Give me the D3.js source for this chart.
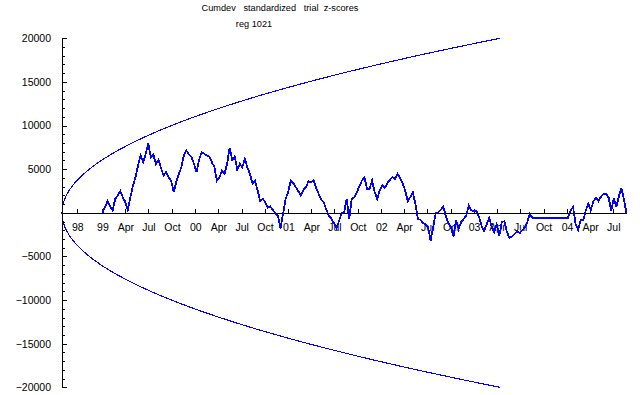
<!DOCTYPE html>
<html>
<head>
<meta charset="utf-8">
<script src="https://cdn.jsdelivr.net/npm/d3@7"></script>
<style>
  html, body { margin: 0; padding: 0; background: #fff; }
  svg { display: block; font-family: "Liberation Sans", Arial, sans-serif; }
</style>
</head>
<body>
<svg id="chart" width="640" height="395"></svg>
<script>
// Cumulative deviation of standardized trial z-scores, egg 1021
// one value every 10 days starting 1999-01-01
const seriesStart = "1999-01-01";
const stepDays = 10;
const cumdev = [
  0, 650, 1330, 720, 260, 1600, 1980, 2480, 1790, 1220,
  340, 1790, 3130, 4080, 5420, 6570, 5800, 6760, 7980, 6380,
  6680, 5610, 6070, 5150, 4280, 4660, 4080, 3700, 2370, 3510,
  4390, 5230, 6570, 7140, 6680, 6380, 5610, 4660, 6070, 6950,
  6760, 6570, 6450, 5800, 5230, 3700, 4080, 4850, 4470, 5610,
  7450, 6070, 6450, 4930, 5610, 5230, 6190, 5150, 4470, 3320,
  3630, 2560, 1330, 1600, 1220, 570, 720, 340, -120, -310,
  -1800, -100, 1600, 2370, 3700, 3400, 2940, 2480, 1980, 2630,
  2940, 3630, 3510, 3700, 2860, 2170, 1490, 1220, 340, -310,
  -690, -1190, -1720, -960, -40, 70, 1600, -690, 1600, 1790,
  2370, 3010, 3700, 4080, 2750, 2750, 3700, 2370, 1600, 2560,
  3130, 2860, 3400, 3780, 4080, 3890, 4470, 4010, 3400, 2560,
  1330, 1790, 2370, 1030, -690, -810, -1190, -1340, -1650, -3170,
  -1650, -40, 70, 340, 720, -420, -1190, -1650, -2720, -810,
  -1840, -1070, -690, -310, 840, 260, 190, 190, -420, -1460,
  -2110, -1340, -580, -1570, -2220, -1340, -2600, -1070, -960, -2220,
  -2870, -2720, -2410, -2110, -2330, -2030, -1650, -1070, -120, -580,
  -580, -580, -580, -580, -580, -580, -580, -580, -580, -580,
  -580, -580, -580, -580, 260, 650, -1260, -1950, -810, -880,
  260, 1030, 340, 1330, 1720, 1330, 1870, 2170, 2170, 1720,
  260, 1720, 650, 1870, 2860, 1490, -40
];

// probability envelope
const envelopeStart = "1998-07-26";
const envelopeEnd = "2003-04-13";
const envelopeMax = 20000;

const xTickDates = [
  "1998-09-24", "1999-01-01", "1999-04-01", "1999-07-01", "1999-10-01",
  "2000-01-01", "2000-04-01", "2000-07-01", "2000-10-01",
  "2001-01-01", "2001-04-01", "2001-07-01", "2001-10-01",
  "2002-01-01", "2002-04-01", "2002-07-01", "2002-10-01",
  "2003-01-01", "2003-04-01", "2003-07-01", "2003-10-01",
  "2004-01-01", "2004-04-01", "2004-07-01"
];
const xTickLabels = [
  "98", "99", "Apr", "Jul", "Oct",
  "00", "Apr", "Jul", "Oct",
  "01", "Apr", "Jul", "Oct",
  "02", "Apr", "Jul", "Oct",
  "03", "Apr", "Jul", "Oct",
  "04", "Apr", "Jul"
];
const yMajorTicks = [-20000, -15000, -10000, -5000, 5000, 10000, 15000, 20000];

const title = "Cumdev   standardized   trial  z-scores";
const subtitle = "reg 1021";

const parse = d3.utcParse("%Y-%m-%d");
const day = 86400000;
const t0 = parse(seriesStart);
const points = cumdev.map((v, i) => ({ date: new Date(t0.getTime() + i * stepDays * day), value: v }));

const svg = d3.select("#chart");

const x = d3.scaleUtc()
  .domain([parse(envelopeStart), points[points.length - 1].date])
  .range([62, 626.5]);

const y = d3.scaleLinear()
  .domain([-20000, 20000])
  .range([387.3, 38.3]);

// titles (keep the double spaces)
svg.append("text")
  .attr("x", 280).attr("y", 11)
  .attr("text-anchor", "middle")
  .attr("font-size", "9.2px")
  .text(title.replace(/ /g, "\u00a0"));

svg.append("text")
  .attr("x", 254).attr("y", 26.5)
  .attr("text-anchor", "middle")
  .attr("font-size", "9.2px")
  .text(subtitle);

// envelope
const eStart = parse(envelopeStart).getTime();
const eEnd = parse(envelopeEnd).getTime();
const eDates = d3.range(eStart, eEnd + 1, day * 2).map(t => new Date(t));
const envLine = d3.line()
  .x(d => x(d.date))
  .y(d => y(d.value));

[1, -1].forEach(sign => {
  const env = eDates.map(dt => ({
    date: dt,
    value: sign * envelopeMax * Math.sqrt((dt.getTime() - eStart) / (eEnd - eStart))
  }));
  svg.append("path")
    .datum(env)
    .attr("fill", "none")
    .attr("stroke", "#0000ff")
    .attr("stroke-width", 1.1)
    .attr("shape-rendering", "crispEdges")
    .attr("d", envLine);
});

// y axis, minor ticks then major
const fmt = d => d < 0 ? "\u2212" + (-d) : String(d);
const yAxisG = svg.append("g").attr("transform", "translate(62,0)");
yAxisG.append("g")
  .call(d3.axisLeft(y).tickValues(d3.range(-20000, 20001, 1000)).tickSizeInner(-2.5).tickSizeOuter(0).tickFormat(""))
  .call(g => g.selectAll("text").remove());
yAxisG.append("g")
  .call(d3.axisLeft(y).tickValues(yMajorTicks).tickSizeInner(-4.5).tickSizeOuter(0).tickPadding(11).tickFormat(fmt))
  .call(g => g.select(".domain").remove());

// x axis along zero
svg.append("g")
  .attr("transform", `translate(0,${y(0)})`)
  .call(d3.axisBottom(x)
    .tickValues(xTickDates.map(parse))
    .tickFormat((d, i) => xTickLabels[i])
    .tickSizeInner(-4)
    .tickSizeOuter(0)
    .tickPadding(10.5));

svg.selectAll(".tick text")
  .attr("font-family", "Liberation Sans, Arial, sans-serif")
  .attr("font-size", "10.5px")
  .attr("fill", "#000");
svg.selectAll(".domain, .tick line")
  .attr("stroke", "#000")
  .attr("shape-rendering", "crispEdges");

// data
svg.append("path")
  .datum(points)
  .attr("fill", "none")
  .attr("stroke", "#0000ff")
  .attr("stroke-width", 1.8)
  .attr("stroke-linejoin", "miter")
  .attr("shape-rendering", "crispEdges")
  .attr("d", d3.line().x(d => x(d.date)).y(d => y(d.value)));
</script>
</body>
</html>
